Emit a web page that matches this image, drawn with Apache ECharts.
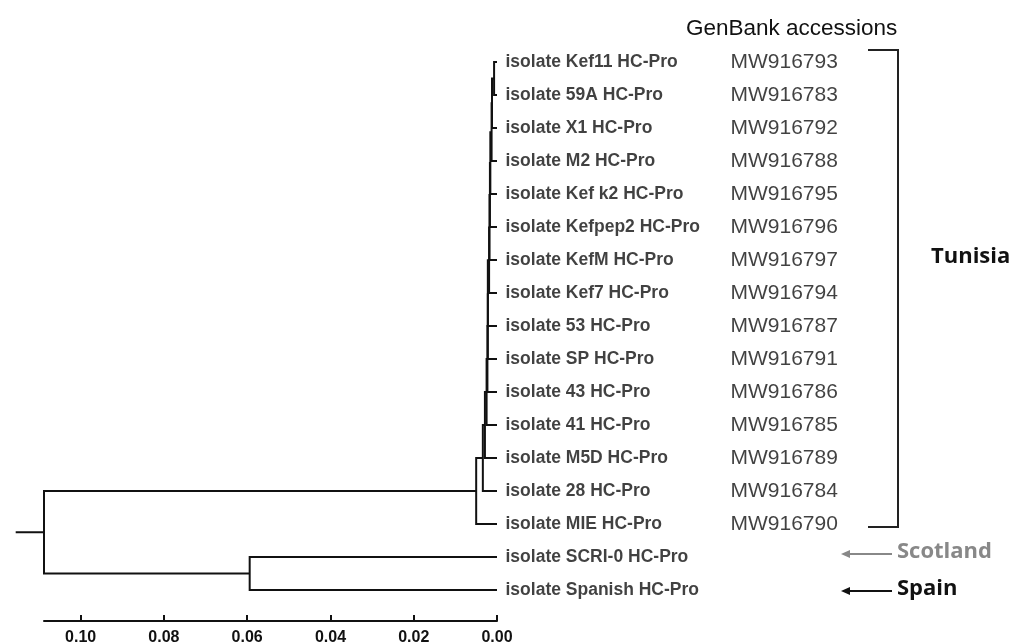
<!DOCTYPE html>
<html>
<head>
<meta charset="utf-8">
<script src="https://cdn.jsdelivr.net/npm/echarts@6/dist/echarts.min.js"></script>
<style>
  html, body { margin: 0; padding: 0; background: #fff; }
  #chart { width: 1011px; height: 642px; }
</style>
</head>
<body>
<div id="chart"></div>
<script>
// leaves, top to bottom
const leafLabels = [
  'isolate Kef11 HC-Pro', 'isolate 59A HC-Pro', 'isolate X1 HC-Pro', 'isolate M2 HC-Pro',
  'isolate Kef k2 HC-Pro', 'isolate Kefpep2 HC-Pro', 'isolate KefM HC-Pro', 'isolate Kef7 HC-Pro',
  'isolate 53 HC-Pro', 'isolate SP HC-Pro', 'isolate 43 HC-Pro', 'isolate 41 HC-Pro',
  'isolate M5D HC-Pro', 'isolate 28 HC-Pro', 'isolate MIE HC-Pro',
  'isolate SCRI-0 HC-Pro', 'isolate Spanish HC-Pro'
]
const accessions = [
  'MW916793', 'MW916783', 'MW916792', 'MW916788', 'MW916795', 'MW916796', 'MW916797',
  'MW916794', 'MW916787', 'MW916791', 'MW916786', 'MW916785', 'MW916789', 'MW916784', 'MW916790'
]

// merges: a number is a leaf index, 'mK' is the K-th merge (1-based)
const mergeLeft  = [0, 'm1', 'm2', 'm3', 'm4', 'm5', 'm6', 'm7', 'm8', 'm9', 'm10', 'm11', 'm12', 'm13', 15, 'm14']
const mergeRight = [1, 2, 3, 4, 5, 6, 7, 8, 9, 10, 11, 12, 13, 14, 16, 'm15']
const mergeDepth = [0.0007, 0.0012, 0.0013, 0.0016, 0.0017, 0.0018, 0.0019, 0.0022,
  0.0022, 0.0023, 0.0025, 0.0029, 0.0034, 0.0050, 0.0594, 0.1088]
const rootStubStart = 0.1156

const tickValues = [0, 0.02, 0.04, 0.06, 0.08, 0.10]

// layout
const nodePos = {}
leafLabels.forEach((_, i) => { nodePos[i] = [0, i] })
const segments = []
mergeDepth.forEach((h, k) => {
  const a = nodePos[mergeLeft[k]]
  const b = nodePos[mergeRight[k]]
  segments.push({ coords: [a, [h, a[1]], [h, b[1]], b] })
  nodePos['m' + (k + 1)] = [h, (a[1] + b[1]) / 2]
})
const root = nodePos['m' + mergeDepth.length]
segments.push({ coords: [[rootStubStart, root[1]], root] })

const chart = echarts.init(document.getElementById('chart'))

const option = {
  backgroundColor: '#fff',
  animation: false,
  title: {
    text: 'GenBank accessions',
    left: 686,
    top: 17,
    padding: 0,
    textStyle: { fontFamily: 'Liberation Sans', fontSize: 22.5, fontWeight: 'normal', color: '#111' }
  },
  grid: { left: 44, right: 514, top: 62, bottom: 52, outerBoundsMode: 'none' },
  xAxis: {
    type: 'value',
    inverse: true,
    min: 0,
    max: mergeDepth[mergeDepth.length - 1],
    position: 'bottom',
    offset: 31,
    splitLine: { show: false },
    axisLine: { onZero: false, lineStyle: { color: '#111', width: 2 } },
    axisTick: { customValues: tickValues, inside: true, length: 6, lineStyle: { color: '#111', width: 2 } },
    axisLabel: {
      customValues: tickValues,
      margin: 9,
      formatter: (v) => v.toFixed(2),
      fontFamily: 'Liberation Sans',
      fontWeight: 'bold',
      fontSize: 16,
      color: '#111'
    }
  },
  yAxis: { type: 'value', inverse: true, min: 0, max: leafLabels.length - 1, show: false },
  series: [
    {
      type: 'lines',
      coordinateSystem: 'cartesian2d',
      polyline: true,
      clip: false,
      silent: true,
      lineStyle: { color: '#111', width: 2, opacity: 1 },
      data: segments
    },
    {
      type: 'scatter',
      symbolSize: 1,
      silent: true,
      itemStyle: { color: 'rgba(0,0,0,0)' },
      label: {
        show: true,
        position: 'right',
        distance: 8,
        formatter: (p) => leafLabels[p.dataIndex],
        fontFamily: 'Liberation Sans',
        fontWeight: 'bold',
        fontSize: 17.5,
        color: '#111'
      },
      data: leafLabels.map((_, i) => [0, i])
    },
    {
      type: 'scatter',
      symbolSize: 1,
      silent: true,
      itemStyle: { color: 'rgba(0,0,0,0)' },
      label: {
        show: true,
        position: 'right',
        distance: 233,
        formatter: (p) => accessions[p.dataIndex],
        fontFamily: 'Liberation Sans',
        fontSize: 21,
        color: '#111'
      },
      data: accessions.map((_, i) => [0, i])
    }
  ],
  graphic: [
    {
      type: 'polyline',
      shape: { points: [[868, 50], [898, 50], [898, 527], [868, 527]] },
      style: { fill: null, stroke: '#222', lineWidth: 2 }
    },
    {
      type: 'text', left: 931, top: 246,
      style: { text: 'Tunisia', font: 'bold 22px "Open Sans"', fill: '#111' }
    },
    {
      type: 'text', left: 897, top: 541,
      style: { text: 'Scotland', font: 'bold 22px "Open Sans"', fill: '#888' }
    },
    {
      type: 'text', left: 897, top: 578,
      style: { text: 'Spain', font: 'bold 22px "Open Sans"', fill: '#111' }
    },
    { type: 'line', shape: { x1: 848, y1: 554, x2: 892, y2: 554 }, style: { stroke: '#888', lineWidth: 2 } },
    { type: 'polygon', shape: { points: [[841, 554], [850, 550], [850, 558]] }, style: { fill: '#888' } },
    { type: 'line', shape: { x1: 848, y1: 591, x2: 892, y2: 591 }, style: { stroke: '#111', lineWidth: 2 } },
    { type: 'polygon', shape: { points: [[841, 591], [850, 587], [850, 595]] }, style: { fill: '#111' } }
  ]
}

chart.setOption(option)
</script>
</body>
</html>
